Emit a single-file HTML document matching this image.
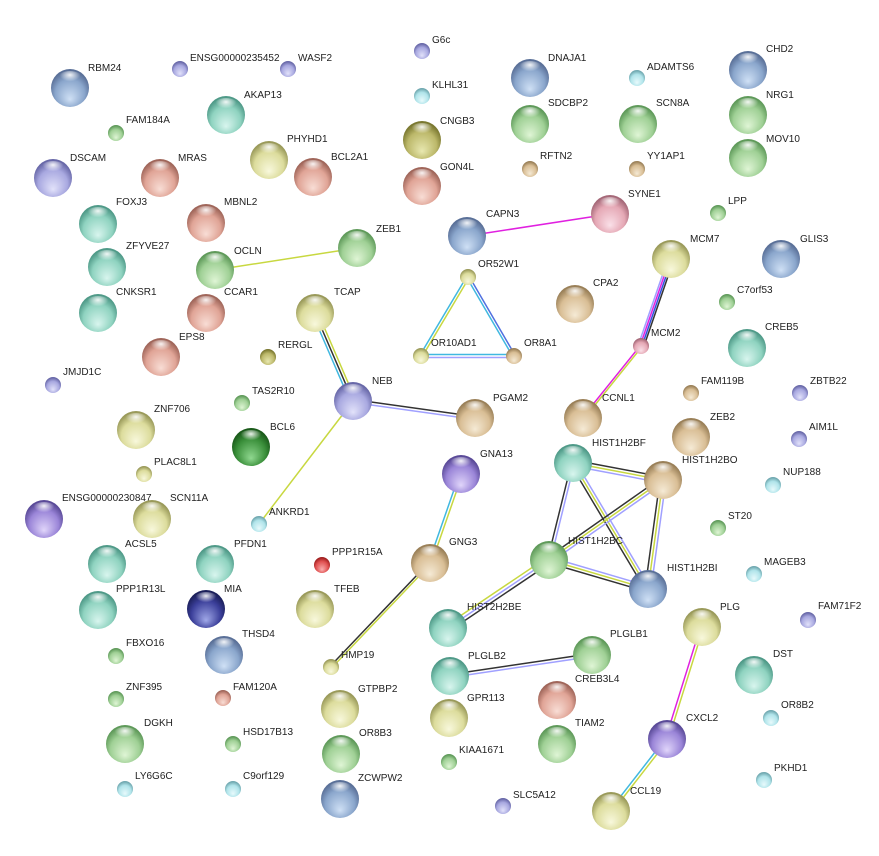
<!DOCTYPE html><html><head><meta charset="utf-8"><style>
body{margin:0;background:#fff}
svg{display:block}
text{font-family:"Liberation Sans",sans-serif;font-size:10px;fill:#222}
</style></head><body>
<svg width="879" height="856" viewBox="0 0 879 856">
<defs>
<radialGradient id="b" cx="50%" cy="60%" r="55%" fx="50%" fy="80%"><stop offset="0" stop-color="#cfe0f5"/><stop offset="0.7" stop-color="#8aa6cc"/><stop offset="1" stop-color="#5a7098"/></radialGradient>
<radialGradient id="g" cx="50%" cy="60%" r="55%" fx="50%" fy="80%"><stop offset="0" stop-color="#dff5d5"/><stop offset="0.7" stop-color="#9fd095"/><stop offset="1" stop-color="#5f9a5a"/></radialGradient>
<radialGradient id="t" cx="50%" cy="60%" r="55%" fx="50%" fy="80%"><stop offset="0" stop-color="#d8f5ee"/><stop offset="0.7" stop-color="#8fd3c0"/><stop offset="1" stop-color="#4f9a88"/></radialGradient>
<radialGradient id="s" cx="50%" cy="60%" r="55%" fx="50%" fy="80%"><stop offset="0" stop-color="#f8ddd5"/><stop offset="0.7" stop-color="#e0a496"/><stop offset="1" stop-color="#a0665a"/></radialGradient>
<radialGradient id="n" cx="50%" cy="60%" r="55%" fx="50%" fy="80%"><stop offset="0" stop-color="#f5ead5"/><stop offset="0.7" stop-color="#d9be95"/><stop offset="1" stop-color="#9a8058"/></radialGradient>
<radialGradient id="y" cx="50%" cy="60%" r="55%" fx="50%" fy="80%"><stop offset="0" stop-color="#f8f8dc"/><stop offset="0.7" stop-color="#dcdc9c"/><stop offset="1" stop-color="#9a9a5a"/></radialGradient>
<radialGradient id="l" cx="50%" cy="60%" r="55%" fx="50%" fy="80%"><stop offset="0" stop-color="#e2e2fa"/><stop offset="0.7" stop-color="#a8a8e0"/><stop offset="1" stop-color="#6868a8"/></radialGradient>
<radialGradient id="c" cx="50%" cy="60%" r="55%" fx="50%" fy="80%"><stop offset="0" stop-color="#e8fafc"/><stop offset="0.7" stop-color="#b0e4ea"/><stop offset="1" stop-color="#70a8b0"/></radialGradient>
<radialGradient id="p" cx="50%" cy="60%" r="55%" fx="50%" fy="80%"><stop offset="0" stop-color="#e0d5fa"/><stop offset="0.7" stop-color="#9a85d8"/><stop offset="1" stop-color="#5a4a98"/></radialGradient>
<radialGradient id="k" cx="50%" cy="60%" r="55%" fx="50%" fy="80%"><stop offset="0" stop-color="#fae0e8"/><stop offset="0.7" stop-color="#e5a8b5"/><stop offset="1" stop-color="#a56878"/></radialGradient>
<radialGradient id="o" cx="50%" cy="60%" r="55%" fx="50%" fy="80%"><stop offset="0" stop-color="#e8e8b0"/><stop offset="0.7" stop-color="#bcb86a"/><stop offset="1" stop-color="#7a7830"/></radialGradient>
<radialGradient id="r" cx="50%" cy="60%" r="55%" fx="50%" fy="80%"><stop offset="0" stop-color="#fab0b0"/><stop offset="0.7" stop-color="#e05050"/><stop offset="1" stop-color="#a02020"/></radialGradient>
<radialGradient id="d" cx="50%" cy="60%" r="55%" fx="50%" fy="80%"><stop offset="0" stop-color="#90d890"/><stop offset="0.7" stop-color="#3a8f3a"/><stop offset="1" stop-color="#1a5a1a"/></radialGradient>
<radialGradient id="v" cx="50%" cy="60%" r="55%" fx="50%" fy="80%"><stop offset="0" stop-color="#a0a8e8"/><stop offset="0.7" stop-color="#3b3f9a"/><stop offset="1" stop-color="#1b1f5a"/></radialGradient>
<radialGradient id="h" cx="50%" cy="25%" r="40%"><stop offset="0" stop-color="#fff" stop-opacity="0.9"/><stop offset="1" stop-color="#fff" stop-opacity="0"/></radialGradient>
</defs>
<g stroke-width="1.5" fill="none">
<line x1="467" y1="236" x2="610" y2="214" stroke="#e020e0"/>
<line x1="357" y1="248" x2="215" y2="270" stroke="#c8d840"/>
<line x1="466.5" y1="277" x2="419.5" y2="356" stroke="#40b8e0"/>
<line x1="469.5" y1="277" x2="422.5" y2="356" stroke="#c8d840"/>
<line x1="466.5" y1="277" x2="512.5" y2="356" stroke="#40b8e0"/>
<line x1="469.5" y1="277" x2="515.5" y2="356" stroke="#5070e0"/>
<line x1="421" y1="354.5" x2="514" y2="354.5" stroke="#40b8e0"/>
<line x1="421" y1="357.5" x2="514" y2="357.5" stroke="#a0a0ff"/>
<line x1="668" y1="259" x2="638" y2="346" stroke="#a0a0ff"/>
<line x1="670" y1="259" x2="640" y2="346" stroke="#e020e0"/>
<line x1="672" y1="259" x2="642" y2="346" stroke="#3050e0"/>
<line x1="674" y1="259" x2="644" y2="346" stroke="#333"/>
<line x1="640" y1="346" x2="582" y2="418" stroke="#e020e0"/>
<line x1="642.5" y1="346" x2="584.5" y2="418" stroke="#c8d840"/>
<line x1="312" y1="313" x2="350" y2="401" stroke="#40b8e0"/>
<line x1="315" y1="313" x2="353" y2="401" stroke="#333"/>
<line x1="318" y1="313" x2="356" y2="401" stroke="#c8d840"/>
<line x1="353" y1="399.5" x2="475" y2="416.5" stroke="#333"/>
<line x1="353" y1="402.5" x2="475" y2="419.5" stroke="#a0a0ff"/>
<line x1="353" y1="401" x2="259" y2="524" stroke="#c8d840"/>
<line x1="459.5" y1="474" x2="428.5" y2="563" stroke="#40b8e0"/>
<line x1="462.5" y1="474" x2="431.5" y2="563" stroke="#c8d840"/>
<line x1="428.5" y1="563" x2="329.5" y2="667" stroke="#333"/>
<line x1="431.5" y1="563" x2="332.5" y2="667" stroke="#c8d840"/>
<!-- histones -->
<line x1="573" y1="460" x2="663" y2="477" stroke="#333"/>
<line x1="573" y1="463" x2="663" y2="480" stroke="#c8d840"/>
<line x1="573" y1="466" x2="663" y2="483" stroke="#a0a0ff"/>
<line x1="571.5" y1="463" x2="547.5" y2="560" stroke="#333"/>
<line x1="574.5" y1="463" x2="550.5" y2="560" stroke="#a0a0ff"/>
<line x1="571" y1="465" x2="646" y2="591" stroke="#333"/>
<line x1="573" y1="463" x2="648" y2="589" stroke="#c8d840"/>
<line x1="575" y1="461" x2="650" y2="587" stroke="#a0a0ff"/>
<line x1="661" y1="478" x2="547" y2="558" stroke="#333"/>
<line x1="663" y1="480" x2="549" y2="560" stroke="#c8d840"/>
<line x1="665" y1="482" x2="551" y2="562" stroke="#a0a0ff"/>
<line x1="660" y1="480" x2="645" y2="589" stroke="#333"/>
<line x1="663" y1="480" x2="648" y2="589" stroke="#c8d840"/>
<line x1="666" y1="480" x2="651" y2="589" stroke="#a0a0ff"/>
<line x1="549" y1="557" x2="648" y2="586" stroke="#a0a0ff"/>
<line x1="549" y1="560" x2="648" y2="589" stroke="#c8d840"/>
<line x1="549" y1="563" x2="648" y2="592" stroke="#333"/>
<line x1="547" y1="557.5" x2="446" y2="625.5" stroke="#c8d840"/>
<line x1="549" y1="560" x2="448" y2="628" stroke="#a0a0ff"/>
<line x1="551" y1="562.5" x2="450" y2="630.5" stroke="#333"/>
<line x1="450" y1="674.5" x2="592" y2="653.5" stroke="#333"/>
<line x1="450" y1="677.5" x2="592" y2="656.5" stroke="#a0a0ff"/>
<line x1="700.5" y1="627" x2="665.5" y2="739" stroke="#e020e0"/>
<line x1="703.5" y1="627" x2="668.5" y2="739" stroke="#c8d840"/>
<line x1="666" y1="738" x2="610" y2="810" stroke="#40b8e0"/>
<line x1="668" y1="740" x2="612" y2="812" stroke="#c8d840"/>
</g>
<g id="nodes">
<!-- big r=19 -->
<g><circle cx="70" cy="88" r="19" fill="url(#b)"/><ellipse cx="70" cy="79" rx="13" ry="8" fill="url(#h)"/><text x="88" y="71">RBM24</text></g>
<g><circle cx="530" cy="78" r="19" fill="url(#b)"/><ellipse cx="530" cy="69" rx="13" ry="8" fill="url(#h)"/><text x="548" y="61">DNAJA1</text></g>
<g><circle cx="748" cy="70" r="19" fill="url(#b)"/><ellipse cx="748" cy="61" rx="13" ry="8" fill="url(#h)"/><text x="766" y="52">CHD2</text></g>
<g><circle cx="226" cy="115" r="19" fill="url(#t)"/><ellipse cx="226" cy="106" rx="13" ry="8" fill="url(#h)"/><text x="244" y="98">AKAP13</text></g>
<g><circle cx="269" cy="160" r="19" fill="url(#y)"/><ellipse cx="269" cy="151" rx="13" ry="8" fill="url(#h)"/><text x="287" y="142">PHYHD1</text></g>
<g><circle cx="422" cy="140" r="19" fill="url(#o)"/><ellipse cx="422" cy="131" rx="13" ry="8" fill="url(#h)"/><text x="440" y="124">CNGB3</text></g>
<g><circle cx="530" cy="124" r="19" fill="url(#g)"/><ellipse cx="530" cy="115" rx="13" ry="8" fill="url(#h)"/><text x="548" y="106">SDCBP2</text></g>
<g><circle cx="638" cy="124" r="19" fill="url(#g)"/><ellipse cx="638" cy="115" rx="13" ry="8" fill="url(#h)"/><text x="656" y="106">SCN8A</text></g>
<g><circle cx="748" cy="115" r="19" fill="url(#g)"/><ellipse cx="748" cy="106" rx="13" ry="8" fill="url(#h)"/><text x="766" y="98">NRG1</text></g>
<g><circle cx="748" cy="158" r="19" fill="url(#g)"/><ellipse cx="748" cy="149" rx="13" ry="8" fill="url(#h)"/><text x="766" y="142">MOV10</text></g>
<g><circle cx="422" cy="186" r="19" fill="url(#s)"/><ellipse cx="422" cy="177" rx="13" ry="8" fill="url(#h)"/><text x="440" y="170">GON4L</text></g>
<g><circle cx="53" cy="178" r="19" fill="url(#l)"/><ellipse cx="53" cy="169" rx="13" ry="8" fill="url(#h)"/><text x="70" y="161">DSCAM</text></g>
<g><circle cx="160" cy="178" r="19" fill="url(#s)"/><ellipse cx="160" cy="169" rx="13" ry="8" fill="url(#h)"/><text x="178" y="161">MRAS</text></g>
<g><circle cx="313" cy="177" r="19" fill="url(#s)"/><ellipse cx="313" cy="168" rx="13" ry="8" fill="url(#h)"/><text x="331" y="160">BCL2A1</text></g>
<g><circle cx="98" cy="224" r="19" fill="url(#t)"/><ellipse cx="98" cy="215" rx="13" ry="8" fill="url(#h)"/><text x="116" y="205">FOXJ3</text></g>
<g><circle cx="206" cy="223" r="19" fill="url(#s)"/><ellipse cx="206" cy="214" rx="13" ry="8" fill="url(#h)"/><text x="224" y="205">MBNL2</text></g>
<g><circle cx="357" cy="248" r="19" fill="url(#g)"/><ellipse cx="357" cy="239" rx="13" ry="8" fill="url(#h)"/><text x="376" y="232">ZEB1</text></g>
<g><circle cx="610" cy="214" r="19" fill="url(#k)"/><ellipse cx="610" cy="205" rx="13" ry="8" fill="url(#h)"/><text x="628" y="197">SYNE1</text></g>
<g><circle cx="467" cy="236" r="19" fill="url(#b)"/><ellipse cx="467" cy="227" rx="13" ry="8" fill="url(#h)"/><text x="486" y="217">CAPN3</text></g>
<g><circle cx="107" cy="267" r="19" fill="url(#t)"/><ellipse cx="107" cy="258" rx="13" ry="8" fill="url(#h)"/><text x="126" y="249">ZFYVE27</text></g>
<g><circle cx="215" cy="270" r="19" fill="url(#g)"/><ellipse cx="215" cy="261" rx="13" ry="8" fill="url(#h)"/><text x="234" y="254">OCLN</text></g>
<g><circle cx="781" cy="259" r="19" fill="url(#b)"/><ellipse cx="781" cy="250" rx="13" ry="8" fill="url(#h)"/><text x="800" y="242">GLIS3</text></g>
<g><circle cx="671" cy="259" r="19" fill="url(#y)"/><ellipse cx="671" cy="250" rx="13" ry="8" fill="url(#h)"/><text x="690" y="242">MCM7</text></g>
<g><circle cx="98" cy="313" r="19" fill="url(#t)"/><ellipse cx="98" cy="304" rx="13" ry="8" fill="url(#h)"/><text x="116" y="295">CNKSR1</text></g>
<g><circle cx="315" cy="313" r="19" fill="url(#y)"/><ellipse cx="315" cy="304" rx="13" ry="8" fill="url(#h)"/><text x="334" y="295">TCAP</text></g>
<g><circle cx="206" cy="313" r="19" fill="url(#s)"/><ellipse cx="206" cy="304" rx="13" ry="8" fill="url(#h)"/><text x="224" y="295">CCAR1</text></g>
<g><circle cx="575" cy="304" r="19" fill="url(#n)"/><ellipse cx="575" cy="295" rx="13" ry="8" fill="url(#h)"/><text x="593" y="286">CPA2</text></g>
<g><circle cx="161" cy="357" r="19" fill="url(#s)"/><ellipse cx="161" cy="348" rx="13" ry="8" fill="url(#h)"/><text x="179" y="340">EPS8</text></g>
<g><circle cx="747" cy="348" r="19" fill="url(#t)"/><ellipse cx="747" cy="339" rx="13" ry="8" fill="url(#h)"/><text x="765" y="330">CREB5</text></g>
<g><circle cx="353" cy="401" r="19" fill="url(#l)"/><ellipse cx="353" cy="392" rx="13" ry="8" fill="url(#h)"/><text x="372" y="384">NEB</text></g>
<g><circle cx="475" cy="418" r="19" fill="url(#n)"/><ellipse cx="475" cy="409" rx="13" ry="8" fill="url(#h)"/><text x="493" y="401">PGAM2</text></g>
<g><circle cx="583" cy="418" r="19" fill="url(#n)"/><ellipse cx="583" cy="409" rx="13" ry="8" fill="url(#h)"/><text x="602" y="401">CCNL1</text></g>
<g><circle cx="136" cy="430" r="19" fill="url(#y)"/><ellipse cx="136" cy="421" rx="13" ry="8" fill="url(#h)"/><text x="154" y="412">ZNF706</text></g>
<g><circle cx="691" cy="437" r="19" fill="url(#n)"/><ellipse cx="691" cy="428" rx="13" ry="8" fill="url(#h)"/><text x="710" y="420">ZEB2</text></g>
<g><circle cx="251" cy="447" r="19" fill="url(#d)"/><ellipse cx="251" cy="438" rx="13" ry="8" fill="url(#h)"/><text x="270" y="430">BCL6</text></g>
<g><circle cx="573" cy="463" r="19" fill="url(#t)"/><ellipse cx="573" cy="454" rx="13" ry="8" fill="url(#h)"/><text x="592" y="446">HIST1H2BF</text></g>
<g><circle cx="663" cy="480" r="19" fill="url(#n)"/><ellipse cx="663" cy="471" rx="13" ry="8" fill="url(#h)"/><text x="682" y="463">HIST1H2BO</text></g>
<g><circle cx="461" cy="474" r="19" fill="url(#p)"/><ellipse cx="461" cy="465" rx="13" ry="8" fill="url(#h)"/><text x="480" y="457">GNA13</text></g>
<g><circle cx="44" cy="519" r="19" fill="url(#p)"/><ellipse cx="44" cy="510" rx="13" ry="8" fill="url(#h)"/><text x="62" y="501">ENSG00000230847</text></g>
<g><circle cx="152" cy="519" r="19" fill="url(#y)"/><ellipse cx="152" cy="510" rx="13" ry="8" fill="url(#h)"/><text x="170" y="501">SCN11A</text></g>
<g><circle cx="215" cy="564" r="19" fill="url(#t)"/><ellipse cx="215" cy="555" rx="13" ry="8" fill="url(#h)"/><text x="234" y="547">PFDN1</text></g>
<g><circle cx="107" cy="564" r="19" fill="url(#t)"/><ellipse cx="107" cy="555" rx="13" ry="8" fill="url(#h)"/><text x="125" y="547">ACSL5</text></g>
<g><circle cx="430" cy="563" r="19" fill="url(#n)"/><ellipse cx="430" cy="554" rx="13" ry="8" fill="url(#h)"/><text x="449" y="545">GNG3</text></g>
<g><circle cx="549" cy="560" r="19" fill="url(#g)"/><ellipse cx="549" cy="551" rx="13" ry="8" fill="url(#h)"/><text x="568" y="544">HIST1H2BC</text></g>
<g><circle cx="648" cy="589" r="19" fill="url(#b)"/><ellipse cx="648" cy="580" rx="13" ry="8" fill="url(#h)"/><text x="667" y="571">HIST1H2BI</text></g>
<g><circle cx="206" cy="609" r="19" fill="url(#v)"/><ellipse cx="206" cy="600" rx="13" ry="8" fill="url(#h)"/><text x="224" y="592">MIA</text></g>
<g><circle cx="98" cy="610" r="19" fill="url(#t)"/><ellipse cx="98" cy="601" rx="13" ry="8" fill="url(#h)"/><text x="116" y="592">PPP1R13L</text></g>
<g><circle cx="315" cy="609" r="19" fill="url(#y)"/><ellipse cx="315" cy="600" rx="13" ry="8" fill="url(#h)"/><text x="334" y="592">TFEB</text></g>
<g><circle cx="448" cy="628" r="19" fill="url(#t)"/><ellipse cx="448" cy="619" rx="13" ry="8" fill="url(#h)"/><text x="467" y="610">HIST2H2BE</text></g>
<g><circle cx="592" cy="655" r="19" fill="url(#g)"/><ellipse cx="592" cy="646" rx="13" ry="8" fill="url(#h)"/><text x="610" y="637">PLGLB1</text></g>
<g><circle cx="702" cy="627" r="19" fill="url(#y)"/><ellipse cx="702" cy="618" rx="13" ry="8" fill="url(#h)"/><text x="720" y="610">PLG</text></g>
<g><circle cx="224" cy="655" r="19" fill="url(#b)"/><ellipse cx="224" cy="646" rx="13" ry="8" fill="url(#h)"/><text x="242" y="637">THSD4</text></g>
<g><circle cx="450" cy="676" r="19" fill="url(#t)"/><ellipse cx="450" cy="667" rx="13" ry="8" fill="url(#h)"/><text x="468" y="659">PLGLB2</text></g>
<g><circle cx="754" cy="675" r="19" fill="url(#t)"/><ellipse cx="754" cy="666" rx="13" ry="8" fill="url(#h)"/><text x="773" y="657">DST</text></g>
<g><circle cx="340" cy="709" r="19" fill="url(#y)"/><ellipse cx="340" cy="700" rx="13" ry="8" fill="url(#h)"/><text x="358" y="692">GTPBP2</text></g>
<g><circle cx="449" cy="718" r="19" fill="url(#y)"/><ellipse cx="449" cy="709" rx="13" ry="8" fill="url(#h)"/><text x="467" y="701">GPR113</text></g>
<g><circle cx="557" cy="700" r="19" fill="url(#s)"/><ellipse cx="557" cy="691" rx="13" ry="8" fill="url(#h)"/><text x="575" y="682">CREB3L4</text></g>
<g><circle cx="667" cy="739" r="19" fill="url(#p)"/><ellipse cx="667" cy="730" rx="13" ry="8" fill="url(#h)"/><text x="686" y="721">CXCL2</text></g>
<g><circle cx="125" cy="744" r="19" fill="url(#g)"/><ellipse cx="125" cy="735" rx="13" ry="8" fill="url(#h)"/><text x="144" y="726">DGKH</text></g>
<g><circle cx="341" cy="754" r="19" fill="url(#g)"/><ellipse cx="341" cy="745" rx="13" ry="8" fill="url(#h)"/><text x="359" y="736">OR8B3</text></g>
<g><circle cx="557" cy="744" r="19" fill="url(#g)"/><ellipse cx="557" cy="735" rx="13" ry="8" fill="url(#h)"/><text x="575" y="726">TIAM2</text></g>
<g><circle cx="340" cy="799" r="19" fill="url(#b)"/><ellipse cx="340" cy="790" rx="13" ry="8" fill="url(#h)"/><text x="358" y="781">ZCWPW2</text></g>
<g><circle cx="611" cy="811" r="19" fill="url(#y)"/><ellipse cx="611" cy="802" rx="13" ry="8" fill="url(#h)"/><text x="630" y="794">CCL19</text></g>
<!-- small r=8 -->
<g><circle cx="180" cy="69" r="8" fill="url(#l)"/><text x="190" y="61">ENSG00000235452</text></g>
<g><circle cx="288" cy="69" r="8" fill="url(#l)"/><text x="298" y="61">WASF2</text></g>
<g><circle cx="422" cy="51" r="8" fill="url(#l)"/><text x="432" y="43">G6c</text></g>
<g><circle cx="637" cy="78" r="8" fill="url(#c)"/><text x="647" y="70">ADAMTS6</text></g>
<g><circle cx="422" cy="96" r="8" fill="url(#c)"/><text x="432" y="88">KLHL31</text></g>
<g><circle cx="116" cy="133" r="8" fill="url(#g)"/><text x="126" y="123">FAM184A</text></g>
<g><circle cx="530" cy="169" r="8" fill="url(#n)"/><text x="540" y="159">RFTN2</text></g>
<g><circle cx="637" cy="169" r="8" fill="url(#n)"/><text x="647" y="159">YY1AP1</text></g>
<g><circle cx="718" cy="213" r="8" fill="url(#g)"/><text x="728" y="204">LPP</text></g>
<g><circle cx="468" cy="277" r="8" fill="url(#y)"/><text x="478" y="267">OR52W1</text></g>
<g><circle cx="727" cy="302" r="8" fill="url(#g)"/><text x="737" y="293">C7orf53</text></g>
<g><circle cx="641" cy="346" r="8" fill="url(#k)"/><text x="651" y="336">MCM2</text></g>
<g><circle cx="421" cy="356" r="8" fill="url(#y)"/><text x="431" y="346">OR10AD1</text></g>
<g><circle cx="514" cy="356" r="8" fill="url(#n)"/><text x="524" y="346">OR8A1</text></g>
<g><circle cx="268" cy="357" r="8" fill="url(#o)"/><text x="278" y="348">RERGL</text></g>
<g><circle cx="53" cy="385" r="8" fill="url(#l)"/><text x="63" y="375">JMJD1C</text></g>
<g><circle cx="691" cy="393" r="8" fill="url(#n)"/><text x="701" y="384">FAM119B</text></g>
<g><circle cx="800" cy="393" r="8" fill="url(#l)"/><text x="810" y="384">ZBTB22</text></g>
<g><circle cx="242" cy="403" r="8" fill="url(#g)"/><text x="252" y="394">TAS2R10</text></g>
<g><circle cx="799" cy="439" r="8" fill="url(#l)"/><text x="809" y="430">AIM1L</text></g>
<g><circle cx="144" cy="474" r="8" fill="url(#y)"/><text x="154" y="465">PLAC8L1</text></g>
<g><circle cx="773" cy="485" r="8" fill="url(#c)"/><text x="783" y="475">NUP188</text></g>
<g><circle cx="259" cy="524" r="8" fill="url(#c)"/><text x="269" y="515">ANKRD1</text></g>
<g><circle cx="718" cy="528" r="8" fill="url(#g)"/><text x="728" y="519">ST20</text></g>
<g><circle cx="322" cy="565" r="8" fill="url(#r)"/><text x="332" y="555">PPP1R15A</text></g>
<g><circle cx="754" cy="574" r="8" fill="url(#c)"/><text x="764" y="565">MAGEB3</text></g>
<g><circle cx="808" cy="620" r="8" fill="url(#l)"/><text x="818" y="609">FAM71F2</text></g>
<g><circle cx="116" cy="656" r="8" fill="url(#g)"/><text x="126" y="646">FBXO16</text></g>
<g><circle cx="331" cy="667" r="8" fill="url(#y)"/><text x="341" y="658">HMP19</text></g>
<g><circle cx="116" cy="699" r="8" fill="url(#g)"/><text x="126" y="690">ZNF395</text></g>
<g><circle cx="223" cy="698" r="8" fill="url(#s)"/><text x="233" y="690">FAM120A</text></g>
<g><circle cx="771" cy="718" r="8" fill="url(#c)"/><text x="781" y="708">OR8B2</text></g>
<g><circle cx="233" cy="744" r="8" fill="url(#g)"/><text x="243" y="735">HSD17B13</text></g>
<g><circle cx="449" cy="762" r="8" fill="url(#g)"/><text x="459" y="753">KIAA1671</text></g>
<g><circle cx="125" cy="789" r="8" fill="url(#c)"/><text x="135" y="779">LY6G6C</text></g>
<g><circle cx="233" cy="789" r="8" fill="url(#c)"/><text x="243" y="779">C9orf129</text></g>
<g><circle cx="764" cy="780" r="8" fill="url(#c)"/><text x="774" y="771">PKHD1</text></g>
<g><circle cx="503" cy="806" r="8" fill="url(#l)"/><text x="513" y="798">SLC5A12</text></g>
</g>
</svg>
</body></html>
